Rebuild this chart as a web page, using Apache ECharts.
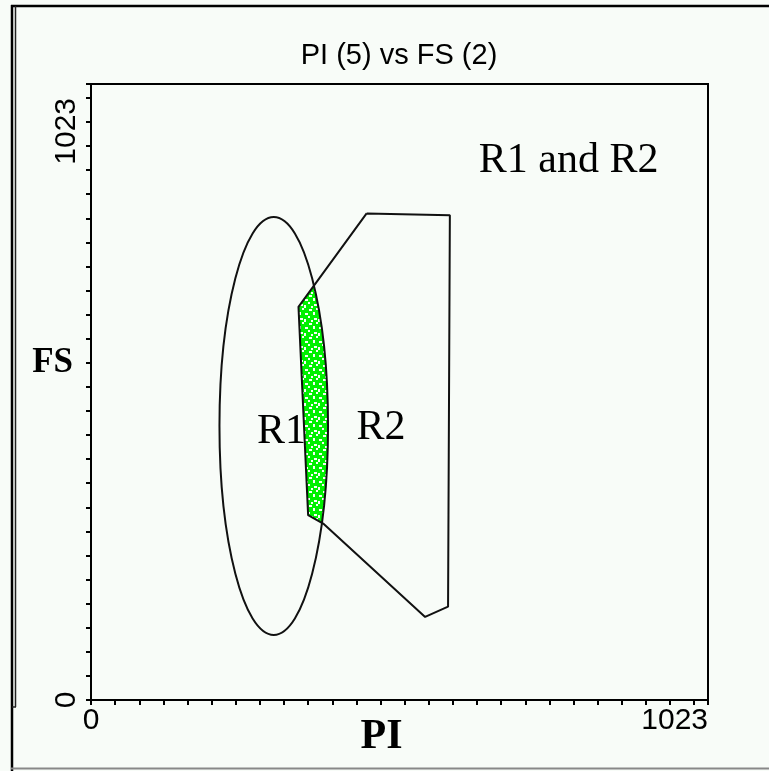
<!DOCTYPE html>
<html>
<head>
<meta charset="utf-8">
<title>PI (5) vs FS (2)</title>
<script src="https://cdn.jsdelivr.net/npm/echarts@6/dist/echarts.min.js"></script>
<style>
  html, body { margin: 0; padding: 0; background: #f8fcf8; }
  #chart { width: 769px; height: 771px; }
</style>
</head>
<body>
<div id="chart"></div>
<script>
// axis scale (channel units)
const axisMin = 0;
const axisMax = 1023;
const tickStep = 40;
const axisLabelValues = [0, 1023];

// R1 ellipse gate: centre x, centre y, radius x, radius y
const r1Ellipse = [303, 455, 90, 347];

// R2 polygon gate vertices
const r2X = [457, 595, 592, 554, 385, 360, 344];
const r2Y = [808, 805, 155, 138, 293, 307, 653];

// gate names and where they are written
const regionNames = ['R1', 'R2', 'R1 and R2'];
const regionLabelX = [316, 481, 792];
const regionLabelY = [445, 451, 895];

const BG = '#f8fcf8';

function ellipseShape(api){
  const c = api.coord([r1Ellipse[0], r1Ellipse[1]]);
  const s = api.size([r1Ellipse[2], r1Ellipse[3]]);
  return { cx: c[0], cy: c[1], rx: s[0], ry: s[1] };
}

function r2Points(api){
  return r2X.map((x, i) => api.coord([x, r2Y[i]]));
}

// speckled green fill for the events inside R1 and R2
function makeSpeckle(){
  const c = document.createElement('canvas');
  c.width = 14; c.height = 14;
  const ctx = c.getContext('2d');
  ctx.fillStyle = '#00f000';
  ctx.fillRect(0, 0, 14, 14);
  ctx.fillStyle = BG;
  [[1,1,3,2],[8,0,2,2],[5,4,2,3],[11,5,3,2],[0,8,2,2],[6,10,3,2],[10,11,2,3],[3,12,2,2]]
    .forEach(p => ctx.fillRect(p[0], p[1], p[2], p[3]));
  return { image: c, repeat: 'repeat' };
}

const axisFont = { fontFamily: 'Liberation Sans', fontSize: 30, color: '#000' };

const chart = echarts.init(document.getElementById('chart'));
chart.setOption({
  animation: false,
  backgroundColor: BG,
  title: {
    text: 'PI (5) vs FS (2)',
    left: 399, top: 41, padding: 0, textAlign: 'center',
    textStyle: { fontFamily: 'Liberation Sans', fontWeight: 'normal', fontSize: 29, color: '#000' }
  },
  grid: {
    left: 91, right: 61, top: 84, bottom: 71,
    show: true, borderColor: '#000', borderWidth: 2, backgroundColor: BG,
    outerBoundsMode: 'none'
  },
  xAxis: {
    type: 'value', min: axisMin, max: axisMax, interval: tickStep,
    name: 'PI', nameLocation: 'middle', nameGap: 16, nameMoveOverlap: false,
    nameTextStyle: { fontFamily: 'Liberation Serif', fontWeight: 'bold', fontSize: 42, color: '#000', padding: [0, 36, 0, 0] },
    axisLine: { lineStyle: { color: '#000', width: 2 } },
    axisTick: { length: 5, lineStyle: { color: '#000', width: 2 } },
    axisLabel: Object.assign({
      customValues: axisLabelValues, alignMaxLabel: 'right', margin: 6,
      formatter: v => String(v)
    }, axisFont),
    splitLine: { show: false }
  },
  yAxis: {
    type: 'value', min: axisMin, max: axisMax, interval: tickStep,
    name: 'FS', nameLocation: 'middle', nameRotate: 0, nameGap: 18, nameMoveOverlap: false,
    nameTextStyle: {
      fontFamily: 'Liberation Serif', fontWeight: 'bold', fontSize: 35, color: '#000',
      verticalAlign: 'bottom', padding: [0, 0, 12, 0]
    },
    axisLine: { lineStyle: { color: '#000', width: 2 } },
    axisTick: { length: 5, lineStyle: { color: '#000', width: 2 } },
    axisLabel: Object.assign({
      customValues: axisLabelValues, rotate: 90, margin: 9, alignMaxLabel: 'right',
      formatter: v => v === axisMax ? '{top|' + v + '}' : String(v),
      rich: { top: Object.assign({ padding: [0, 14, 0, 0] }, axisFont) }
    }, axisFont),
    splitLine: { show: false }
  },
  series: [
    {
      type: 'custom', name: 'R1 and R2', silent: true,
      data: [[r1Ellipse[0], r1Ellipse[1]]],
      renderItem: (params, api) => ({
        type: 'polygon',
        shape: { points: r2Points(api) },
        style: { fill: makeSpeckle(), stroke: null },
        clipPath: { type: 'ellipse', shape: ellipseShape(api) }
      })
    },
    {
      type: 'custom', name: 'gate labels', silent: true, z: 3,
      data: regionNames.map((n, i) => [regionLabelX[i], regionLabelY[i]]),
      renderItem: (params, api) => {
        const p = api.coord([api.value(0), api.value(1)]);
        return {
          type: 'text', x: p[0], y: p[1],
          style: {
            text: regionNames[params.dataIndex], fill: '#000',
            font: '42px "Liberation Serif"', align: 'center', verticalAlign: 'middle'
          }
        };
      }
    },
    {
      type: 'custom', name: 'R1', silent: true, z: 4,
      data: [r1Ellipse],
      renderItem: (params, api) => ({
        type: 'ellipse',
        shape: ellipseShape(api),
        style: { fill: null, stroke: '#111', lineWidth: 2 }
      })
    },
    {
      type: 'line', name: 'R2', silent: true, z: 4,
      data: r2X.concat(r2X[0]).map((x, i) => [x, r2Y.concat(r2Y[0])[i]]),
      symbol: 'none',
      lineStyle: { color: '#111', width: 2 }
    }
  ],
  graphic: [
    { type: 'line', silent: true, shape: { x1: 11, y1: 6, x2: 769, y2: 6 }, style: { stroke: '#000', lineWidth: 2.5 } },
    { type: 'line', silent: true, shape: { x1: 12, y1: 5, x2: 12, y2: 771 }, style: { stroke: '#000', lineWidth: 2.5 } },
    { type: 'line', silent: true, shape: { x1: 15.5, y1: 6, x2: 15.5, y2: 707 }, style: { stroke: '#222', lineWidth: 1.5 } },
    { type: 'line', silent: true, shape: { x1: 12, y1: 707, x2: 16, y2: 707 }, style: { stroke: '#222', lineWidth: 1.5 } },
    { type: 'line', silent: true, shape: { x1: 11, y1: 768.5, x2: 769, y2: 768.5 }, style: { stroke: '#888', lineWidth: 2 } }
  ]
});
</script>
</body>
</html>
